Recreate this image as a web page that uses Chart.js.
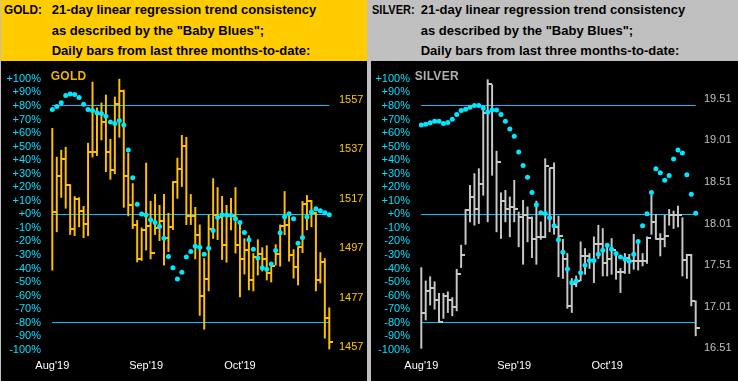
<!DOCTYPE html>
<html>
<head>
<meta charset="utf-8">
<script src="https://cdn.jsdelivr.net/npm/chart.js@4.4.0/dist/chart.umd.min.js"></script>
<style>
body { margin: 0; background: #c0c0c0; }
#wrap { position: relative; width: 738px; height: 381px; background: #c0c0c0; overflow: hidden;
        font-family: "Liberation Sans", Arial, sans-serif; }
.panel { position: absolute; top: 0; height: 381px; }
.head { position: absolute; left: 0; top: 0; width: 100%; height: 61px; font-weight: bold;
        font-size: 13px; line-height: 20.5px; color: #000; }
.head span { position: absolute; top: 0; white-space: nowrap; }
.head .tag { font-size: 12.5px; transform-origin: 0 0; }
.plot { position: absolute; left: 0; top: 61px; background: #000; }
.name { position: absolute; top: 69px; font-weight: bold; font-size: 12px; letter-spacing: .3px; }
</style>
</head>
<body>
<div id="wrap">
  <div class="panel" style="left:1px;width:366px">
    <div class="head" style="background:#ffcc00">
      <span class="tag" style="left:3px;transform:scaleX(0.94)">GOLD:</span>
      <span style="left:50.7px">21-day linear regression trend consistency<br>as described by the "Baby Blues";<br>Daily bars from last three months-to-date:</span>
    </div>
    <canvas class="plot" id="gold" width="366" height="320"></canvas>
    <div class="name" style="left:49.7px;color:#f0b400">GOLD</div>
  </div>
  <div class="panel" style="left:371px;width:367px">
    <div class="head" style="background:#c0c0c0">
      <span class="tag" style="left:1px;transform:scaleX(0.88)">SILVER:</span>
      <span style="left:49.7px">21-day linear regression trend consistency<br>as described by the "Baby Blues";<br>Daily bars from last three months-to-date:</span>
    </div>
    <canvas class="plot" id="silver" width="367" height="320"></canvas>
    <div class="name" style="left:43.7px;color:#b0b0b0">SILVER</div>
  </div>
</div>
<script>
const monthLabels = ["Aug'19", "Sep'19", "Oct'19"];
const monthIndex = [0, 21, 42];
const pctGuides = [80, 0, -80];

const goldHigh = [1545.5,1533.9,1536.7,1537.9,1522.8,1518.0,1517.5,1514.0,1539.5,1564.2,
  1553.8,1555.8,1559.0,1541.1,1558.2,1565.4,1561.0,1535.5,1523.2,1508.3,
  1505.3,1531.5,1516.0,1518.8,1514.4,1518.8,1511.2,1524.0,1533.5,1542.7,
  1541.9,1518.8,1513.6,1506.5,1492.9,1510.6,1525.2,1521.6,1518.0,1514.4,
  1517.2,1521.6,1507.7,1500.9,1502.1,1494.9,1500.5,1497.3,1498.1,1491.0,
  1498.5,1506.5,1520.0,1511.6,1496.5,1497.7,1516.0,1518.4,1516.4,1511.6,
  1495.3,1492.9,1473.0];
const goldLow = [1488.2,1503.7,1517.6,1513.2,1502.6,1502.1,1505.7,1501.3,1502.1,1533.9,
  1534.5,1540.8,1528.0,1524.9,1527.2,1541.9,1513.6,1510.1,1505.0,1491.5,
  1492.1,1496.3,1492.7,1502.6,1500.1,1490.2,1495.7,1504.6,1517.2,1522.0,
  1506.6,1506.6,1492.7,1469.9,1464.3,1479.8,1501.0,1500.5,1492.5,1491.4,
  1504.5,1495.1,1477.4,1486.6,1480.2,1479.8,1486.2,1487.8,1484.2,1483.4,
  1490.2,1489.8,1502.5,1491.8,1485.0,1482.2,1495.3,1504.5,1505.7,1479.8,
  1483.0,1460.7,1456.3];
const goldClose = [1511.6,1526.4,1533.3,1522.8,1505.0,1517.0,1512.2,1507.0,1536.0,1536.0,
  1551.4,1547.9,1536.0,1528.5,1555.4,1560.7,1526.4,1514.4,1506.6,1492.9,
  1504.5,1506.2,1495.1,1505.4,1508.2,1501.0,1505.8,1523.8,1528.9,1538.4,
  1510.2,1510.2,1502.6,1477.6,1484.7,1505.0,1510.6,1509.8,1498.2,1510.2,
  1510.2,1498.2,1492.9,1496.5,1484.2,1493.5,1494.7,1492.7,1487.1,1489.9,
  1494.7,1506.2,1506.6,1494.3,1489.5,1497.5,1515.0,1516.2,1511.4,1484.3,
  1491.5,1468.7,1459.2];
const goldBlues = [77.5,79.7,82.4,87.7,88.9,88.4,86.3,81.2,77.5,76.6,
  75.1,74.4,72.4,68.1,67.1,69.3,65.9,47.5,27.1,7.5,
  0.2,-0.5,-3.9,-6.1,-9.0,-17.7,-31.1,-39.5,-47.8,-42.7,
  -31.5,-27.4,-23.5,-24.3,-29.4,-25.0,-11.9,-2.4,-0.3,-0.5,
  -0.7,-3.2,-6.1,-13.4,-18.7,-25.7,-32.3,-39.5,-40.5,-36.6,
  -26.7,-13.6,-1.7,0.5,-3.2,-21.4,-17.0,-2.0,1.7,4.1,
  2.6,1.2,-0.3];
const goldTicks = [1457, 1477, 1497, 1517, 1537, 1557];

const silverHigh = [17.48,17.32,17.37,17.31,17.17,17.17,17.19,17.12,17.46,17.75,
  18.18,18.47,18.61,18.67,19.42,19.74,19.68,18.88,18.38,18.41,
  18.33,18.53,18.15,18.29,18.21,18.09,18.28,18.03,18.79,18.68,
  18.74,18.10,17.82,17.65,17.35,17.38,17.79,17.71,17.65,17.85,
  17.99,17.95,17.77,17.83,17.67,17.47,17.65,17.64,17.88,17.76,
  17.65,17.85,18.35,18.12,17.89,18.11,18.18,18.16,18.22,18.08,
  17.64,17.64,17.08];
const silverLow = [16.51,16.85,17.03,16.98,16.82,16.87,16.94,16.90,16.96,17.48,
  17.76,18.03,17.99,18.01,18.35,18.03,18.59,17.91,17.83,18.03,
  17.85,18.03,17.73,17.52,17.79,17.60,17.52,17.82,17.84,17.91,
  17.88,17.37,17.35,16.99,16.94,17.25,17.32,17.40,17.47,17.30,
  17.59,17.38,17.38,17.40,17.34,17.18,17.41,17.41,17.46,17.45,
  17.50,17.53,17.88,17.82,17.62,17.73,17.99,17.95,17.97,17.38,
  17.35,17.02,16.66];
const silverClose = [16.93,17.20,17.24,17.09,16.83,17.14,17.09,17.01,17.40,17.63,
  18.17,18.33,18.18,18.48,19.34,19.69,19.37,18.75,18.28,18.18,
  18.21,18.18,18.09,18.11,18.08,17.82,17.85,17.85,18.70,18.68,
  17.97,17.86,17.58,17.02,17.28,17.32,17.62,17.62,17.57,17.77,
  17.77,17.53,17.58,17.69,17.43,17.43,17.59,17.56,17.56,17.56,
  17.56,17.84,18.03,17.82,17.82,17.86,18.11,18.11,18.11,17.57,
  17.63,17.08,16.75];
const silverBlues = [65.9,66.6,67.6,68.8,68.8,67.1,67.9,70.3,73.7,76.6,
  77.6,79.0,80.4,80.4,78.5,75.4,77.1,77.1,73.7,68.8,
  63.0,57.7,46.0,36.1,27.4,16.2,7.0,1.2,0.7,-2.5,
  -8.5,-18.7,-27.9,-40.3,-50.5,-49.2,-43.2,-37.6,-34.0,-34.0,
  -29.4,-26.5,-22.8,-25.7,-28.9,-31.5,-33.0,-34.7,-29.4,-20.1,
  -8.5,0.5,16.2,33.7,30.8,25.2,28.6,40.9,47.5,45.3,
  29.3,14.8,0.9];
const silverTicks = [16.51, 17.01, 17.51, 18.01, 18.51, 19.01, 19.51];

Chart.defaults.font.family = '"Liberation Sans", Arial, sans-serif';

// close tick drawn to the right of the bar
function tickMark(color) {
  const c = document.createElement('canvas');
  c.width = 8;
  c.height = 2;
  const g = c.getContext('2d');
  g.fillStyle = color;
  g.fillRect(4, 0, 4, 2);
  return c;
}

function makeChart(id, o) {
  const days = o.high.map((_, i) => i);
  new Chart(document.getElementById(id), {
    data: {
      labels: days,
      datasets: [
        { type: 'line', data: o.blues, yAxisID: 'y', showLine: false, pointRadius: 2.5,
          pointBackgroundColor: '#00e8ff', pointBorderWidth: 0, order: 0, clip: false },
        { type: 'line', data: o.close, yAxisID: 'y2', showLine: false, pointStyle: tickMark(o.color),
          pointRadius: 3, order: 1, clip: false },
        { type: 'bar', data: o.low.map((l, i) => [l, o.high[i]]), yAxisID: 'y2',
          backgroundColor: o.color, barThickness: 1.3, order: 2, clip: false }
      ]
    },
    options: {
      responsive: false,
      animation: false,
      events: [],
      layout: { padding: { top: 13.8, left: 0, right: 0, bottom: 0 } },
      plugins: { legend: { display: false }, tooltip: { enabled: false } },
      scales: {
        x: {
          offset: false,
          grid: { display: false, drawTicks: false },
          border: { display: false },
          ticks: {
            autoSkip: false, maxRotation: 0, minRotation: 0, padding: 10,
            color: '#ffffff', font: { size: 11 },
            callback: (v, i) => {
              const k = monthIndex.indexOf(i);
              return k < 0 ? '' : monthLabels[k];
            }
          },
          afterFit: s => { s.height = 31.2; }
        },
        y: {
          position: 'left', min: -100, max: 100,
          ticks: { stepSize: 10, autoSkip: false, color: '#00e0ff', padding: 11.3, font: { size: 11 },
                   callback: v => (v >= 0 ? '+' : '') + v + '%' },
          grid: { drawTicks: false,
                  color: c => pctGuides.includes(c.tick.value) ? '#00c0ff' : 'rgba(0,0,0,0)' },
          border: { display: false },
          afterFit: s => { s.width = o.leftW; }
        },
        y2: {
          position: 'right', min: o.min, max: o.max,
          afterBuildTicks: s => { s.ticks = o.ticks.map(v => ({ value: v })); },
          ticks: { autoSkip: false, color: o.labelColor, padding: o.rightPad, font: { size: 11 },
                   callback: v => v.toFixed(o.digits) },
          grid: { display: false, drawTicks: false },
          border: { display: false },
          afterFit: s => { s.width = o.rightW; }
        }
      }
    }
  });
}

makeChart('gold', {
  high: goldHigh, low: goldLow, close: goldClose, blues: goldBlues, ticks: goldTicks,
  min: 1456.0, max: 1565.5, digits: 0,
  color: '#ffc000', labelColor: '#ffc800',
  leftW: 51.3, rightW: 37.7, rightPad: 9.7
});

makeChart('silver', {
  high: silverHigh, low: silverLow, close: silverClose, blues: silverBlues, ticks: silverTicks,
  min: 16.492, max: 19.749, digits: 2,
  color: '#c8c8c8', labelColor: '#c0c0c0',
  leftW: 50.3, rightW: 42.3, rightPad: 8.3
});
</script>
</body>
</html>
